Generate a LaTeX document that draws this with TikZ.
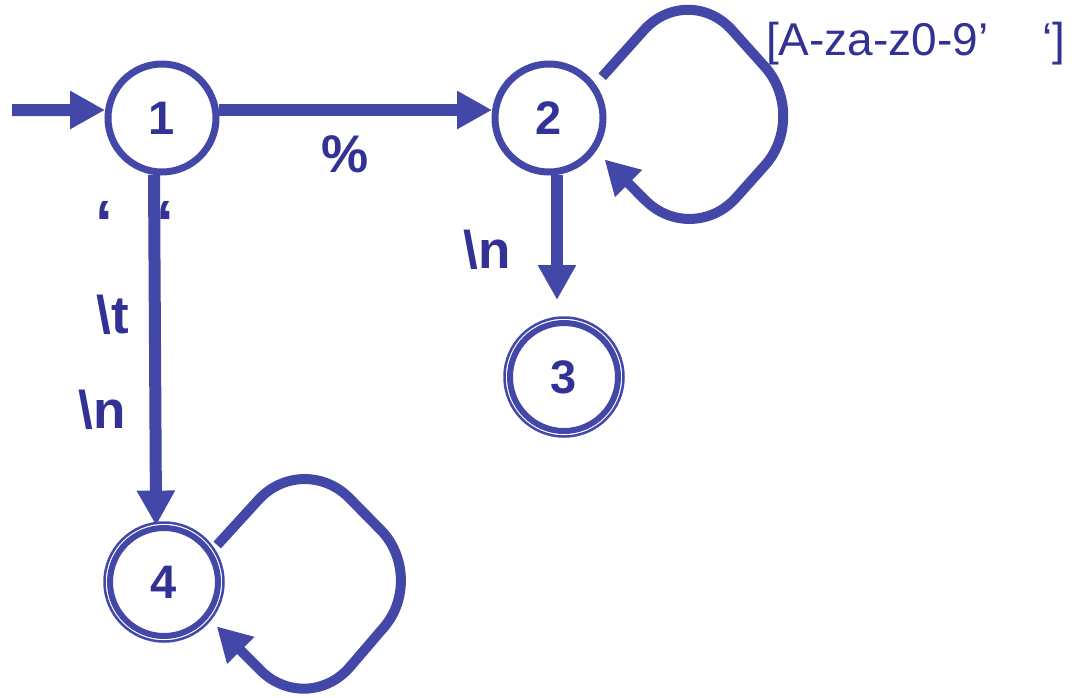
\documentclass[tikz,border=0pt]{standalone}
\usepackage{fontspec}
\setmainfont{Liberation Sans}
\usetikzlibrary{arrows.meta}
\definecolor{lineblue}{RGB}{67,72,168}
\definecolor{textblue}{RGB}{50,50,150}
\tikzset{
  state/.style={circle, draw=lineblue, line width=7pt, minimum size=108pt, inner sep=0pt,
    font=\fontsize{47}{47}\selectfont\bfseries, text=textblue, fill=white},
  finalstate/.style={state, line width=6pt},
  ring/.style={draw=lineblue, line width=2.5pt},
  edge/.style={draw=lineblue, line width=12pt, -{Triangle[length=35pt,width=36pt]}},
  loopedge/.style={draw=lineblue, line width=10pt, rounded corners=66pt, -{Triangle[length=34pt,width=36pt]}},
  lbl/.style={text=textblue, font=\fontsize{53}{53}\selectfont\bfseries, inner sep=0pt, anchor=base},
  quotelbl/.style={text=textblue, font=\fontsize{64}{64}\selectfont\bfseries, inner sep=0pt, anchor=base},
  setlbl/.style={text=textblue, font=\fontsize{46}{46}\selectfont, inner sep=0pt, anchor=base west},
}
\begin{document}
\begin{tikzpicture}[x=1pt,y=-1pt]
\useasboundingbox (0,0) rectangle (1077,697);
% states
\node[state] (n1) at (162,118) {1};
\node[state] (n2) at (549,118) {2};
\node[finalstate] (n3) at (564,377) {3};
\node[finalstate] (n4) at (164,582) {4};
\draw[ring] (n3.center) circle[radius=59.5pt];
\draw[ring] (n4.center) circle[radius=59.5pt];
% start arrow
\coordinate (s) at (12,110);
\draw[edge] (s) -- (n1.172);
% 1 -> 2
\draw[edge] (n1.8) -- (n2.172);
% 1 -> 4
\draw[edge] (n1.262) -- (n4.98);
% 2 -> 3
\draw[edge, shorten >=20pt] (n2.-82) -- (n2.-82 |- n3.north);
% loop on 2
\coordinate (t2) at (688,-19);
\coordinate (r2) at (809,116);
\coordinate (b2) at (692,247);
\draw[loopedge, shorten <=10pt, shorten >=12pt] (n2.36) -- (t2) -- (r2) -- (b2) -- (n2.-35);
% loop on 4
\coordinate (t4) at (303,451);
\coordinate (r4) at (427,577);
\coordinate (b4) at (307,717);
\draw[loopedge, shorten <=8pt, shorten >=12pt] (n4.33) -- (t4) -- (r4) -- (b4) -- (n4.-39);
% labels
\node[lbl] (pct) at (345,172) {\%};
\node[lbl] (nl23) at (487,268) {\textbackslash n};
\node[lbl] (tab) at (113,333) {\textbackslash t};
\node[lbl] (nl14) at (102,428) {\textbackslash n};
\node[quotelbl] (q1) at (104,245) {‘};
\node[quotelbl] (q2) at (165,245) {‘};
\node[setlbl] (set) at (766,55) {[A-za-z0-9’\hspace{54pt}‘]};
\node[font=\fontsize{52}{52}\selectfont\bfseries, inner sep=0pt, anchor=base west, text=black] (frag) at (-13,375) {’};
\end{tikzpicture}
\end{document}
